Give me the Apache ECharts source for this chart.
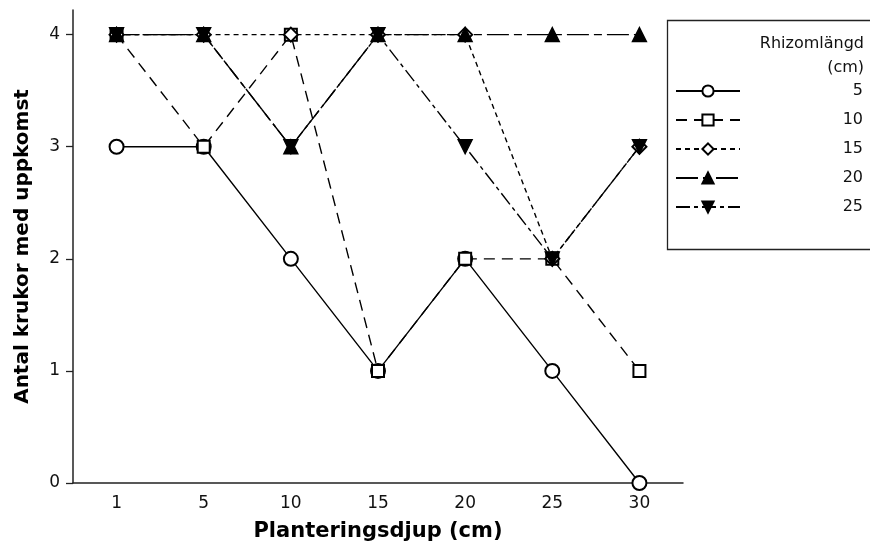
<!DOCTYPE html>
<html>
<head>
<meta charset="utf-8">
<script src="https://cdn.jsdelivr.net/npm/echarts@6/dist/echarts.min.js"></script>
<style>
  html, body { margin: 0; padding: 0; background: #fff; }
  #chart { width: 870px; height: 551px; }
</style>
</head>
<body>
<div id="chart"></div>
<script>
// planting depth (cm) on the x axis
const depths = ['1', '5', '10', '15', '20', '25', '30']
const yTicks = [0, 1, 2, 3, 4]

// pots with emergence, one array per rhizome length
const rhizome5 = [3, 3, 2, 1, 2, 1, 0]
const rhizome10 = [4, 3, 4, 1, 2, 2, 1]
const rhizome15 = [4, 4, 4, 4, 4, 2, 3]
const rhizome20 = [4, 4, 3, 4, 4, 4, 4]
const rhizome25 = [4, 4, 3, 4, 3, 2, 3]

const seriesNames = ['5', '10', '15', '20', '25']

const font = 'DejaVu Sans'

const makeSeries = (name, data, symbol, dash, size, rotate) => ({
  name: name,
  type: 'line',
  data: data,
  symbol: symbol,
  symbolSize: size,
  symbolRotate: rotate || 0,
  showAllSymbol: true,
  animation: false,
  itemStyle: { color: '#000', borderColor: '#000', borderWidth: 1.4 },
  lineStyle: { color: '#000', width: 1.4, type: dash }
})

const chart = echarts.init(document.getElementById('chart'))

const option = {
  backgroundColor: '#fff',
  animation: false,
  grid: { left: 73, right: 187, top: 10, bottom: 68, outerBoundsMode: 'none', containLabel: false },
  xAxis: {
    type: 'category',
    data: depths,
    boundaryGap: true,
    name: 'Planteringsdjup (cm)',
    nameLocation: 'middle',
    nameGap: 38,
    nameTextStyle: { fontFamily: font, fontWeight: 'bold', fontSize: 21, color: '#000' },
    axisLine: { lineStyle: { color: '#222', width: 1.5 } },
    axisTick: { alignWithLabel: true, length: 6, lineStyle: { color: '#222', width: 1.3 } },
    axisLabel: { fontFamily: font, fontSize: 17, color: '#111', margin: 12 },
    splitLine: { show: false }
  },
  yAxis: {
    type: 'value',
    min: 0,
    max: 4.22,
    interval: 1,
    name: 'Antal krukor med uppkomst',
    nameLocation: 'middle',
    nameGap: 40,
    nameTextStyle: { fontFamily: font, fontWeight: 'bold', fontSize: 20, color: '#000' },
    axisLine: { show: true, lineStyle: { color: '#222', width: 1.5 } },
    axisTick: { show: true, length: 7, customValues: yTicks, lineStyle: { color: '#222', width: 1.3 } },
    axisLabel: { fontFamily: font, fontSize: 17, color: '#111', margin: 13, customValues: yTicks },
    splitLine: { show: false }
  },
  graphic: [{
    type: 'rect',
    left: 665,
    top: 18,
    shape: { width: 230, height: 229 },
    style: { fill: 'none', stroke: '#222', lineWidth: 1.3 },
    z: -1
  }, {
    type: 'text',
    x: 864,
    y: 32,
    style: {
      text: 'Rhizomlängd\n(cm)',
      align: 'right',
      verticalAlign: 'top',
      fontFamily: font,
      fontSize: 16,
      lineHeight: 24,
      fill: '#111'
    }
  }],
  legend: {
    data: seriesNames,
    orient: 'vertical',
    left: 675,
    top: 83,
    itemWidth: 64,
    itemHeight: 14,
    itemGap: 13,
    padding: 0,
    selectedMode: false,
    formatter: (name) => '{a|' + name + '}',
    textStyle: {
      color: '#111',
      fontFamily: font,
      fontSize: 16,
      rich: { a: { width: 118, align: 'right', fontFamily: font, fontSize: 16, lineHeight: 16 } }
    }
  },
  series: [
    makeSeries('5', rhizome5, 'emptyCircle', 'solid', 14),
    makeSeries('10', rhizome10, 'emptyRect', [11, 7], 12),
    makeSeries('15', rhizome15, 'emptyDiamond', [5, 4], 14),
    makeSeries('20', rhizome20, 'triangle', [22, 5, 8, 5], 14),
    makeSeries('25', rhizome25, 'triangle', [14, 4, 4, 4], 14, 180)
  ]
}

chart.setOption(option)
</script>
</body>
</html>
